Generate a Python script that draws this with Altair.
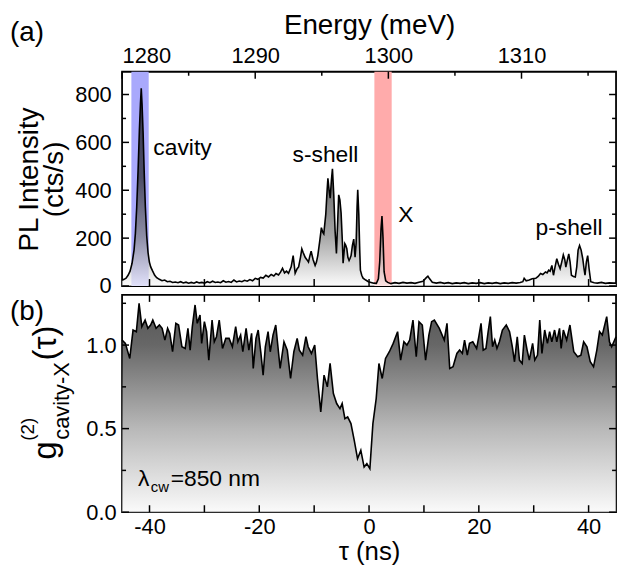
import altair as alt
import pandas as pd

# ---------------- data ----------------
energy = [1280.00, 1280.15, 1280.30, 1280.45, 1280.60, 1280.75, 1280.90, 1281.00, 1281.10, 1281.20,
          1281.30, 1281.38, 1281.44, 1281.50, 1281.58, 1281.66, 1281.75, 1281.85, 1281.95, 1282.05,
          1282.15, 1282.30, 1282.45, 1282.60, 1282.80, 1283.00, 1283.20, 1283.40, 1283.60, 1283.80,
          1284.00, 1284.20, 1284.40, 1284.60, 1284.80, 1285.00, 1285.20, 1285.40, 1285.60, 1285.80,
          1286.00, 1286.20, 1286.40, 1286.60, 1286.80, 1287.00, 1287.20, 1287.40, 1287.60, 1287.80,
          1288.00, 1288.20, 1288.40, 1288.60, 1288.80, 1289.00, 1289.20, 1289.40, 1289.60, 1289.80,
          1290.00, 1290.20, 1290.40, 1290.60, 1290.80, 1291.00, 1291.20, 1291.40, 1291.56, 1291.75,
          1291.90, 1292.05, 1292.20, 1292.35, 1292.50, 1292.70, 1292.85, 1293.00, 1293.15, 1293.26,
          1293.40, 1293.50, 1293.60, 1293.75, 1293.88, 1294.00, 1294.10, 1294.20, 1294.35, 1294.50,
          1294.60, 1294.70, 1294.85, 1294.97, 1295.07, 1295.15, 1295.30, 1295.40, 1295.46, 1295.55,
          1295.63, 1295.72, 1295.80, 1295.90, 1296.00, 1296.10, 1296.20, 1296.27, 1296.36, 1296.45,
          1296.55, 1296.60, 1296.67, 1296.73, 1296.80, 1296.88, 1296.96, 1297.05, 1297.12, 1297.20,
          1297.30, 1297.40, 1297.50, 1297.58, 1297.65, 1297.70, 1297.78, 1297.85, 1297.90, 1298.00,
          1298.10, 1298.30, 1298.50, 1298.70, 1298.90, 1299.10, 1299.25, 1299.35, 1299.45, 1299.52,
          1299.60, 1299.68, 1299.80, 1299.95, 1300.20, 1300.50, 1300.80, 1301.10, 1301.40, 1301.70,
          1302.00, 1302.30, 1302.60, 1302.85, 1302.97, 1303.10, 1303.30, 1303.60, 1303.90, 1304.20,
          1304.50, 1304.80, 1305.10, 1305.40, 1305.70, 1306.00, 1306.30, 1306.60, 1306.90, 1307.20,
          1307.50, 1307.80, 1308.10, 1308.40, 1308.70, 1309.00, 1309.30, 1309.60, 1309.90, 1310.10,
          1310.20, 1310.35, 1310.58, 1310.80, 1311.07, 1311.25, 1311.43, 1311.60, 1311.80, 1311.92,
          1312.04, 1312.15, 1312.28, 1312.40, 1312.52, 1312.65, 1312.78, 1312.90, 1313.02, 1313.14,
          1313.25, 1313.33, 1313.45, 1313.55, 1313.65, 1313.75, 1313.90, 1314.04, 1314.15, 1314.25,
          1314.36, 1314.48, 1314.60, 1314.70, 1314.77, 1314.87, 1314.97, 1315.08, 1315.20, 1315.46,
          1315.70, 1316.00, 1316.30, 1316.60, 1316.90, 1317.10]
intensity = [24, 28, 33, 45, 62, 95, 150, 220, 330, 480,
             650, 760, 826, 760, 640, 480, 330, 210, 140, 100,
             80, 62, 45, 35, 28, 22, 25, 18, 20, 15,
             17, 14, 18, 13, 16, 12, 15, 12, 17, 13,
             15, 12, 18, 14, 20, 15, 17, 14, 22, 16,
             19, 15, 25, 17, 21, 18, 24, 20, 27, 22,
             32, 28, 36, 33, 45, 38, 48, 42, 52, 46,
             58, 74, 55, 62, 53, 80, 127, 53, 72, 80,
             120, 155, 140, 120, 110, 100, 125, 145, 110, 86,
             100, 127, 190, 244, 225, 218, 300, 400, 450, 400,
             367, 440, 490, 380, 230, 136, 280, 381, 360, 305,
             180, 95, 140, 177, 170, 156, 120, 107, 115, 127,
             170, 196, 120, 180, 330, 402, 300, 150, 66, 45,
             33, 25, 18, 15, 12, 11, 30, 100, 240, 292,
             200, 60, 22, 15, 10, 14, 11, 15, 12, 14,
             11, 16, 20, 35, 41, 30, 16, 12, 15, 11,
             14, 10, 13, 11, 14, 10, 13, 11, 14, 10,
             13, 11, 14, 10, 13, 11, 14, 12, 15, 18,
             32, 22, 25, 30, 32, 40, 52, 48, 59, 55,
             66, 62, 86, 45, 80, 114, 90, 73, 100, 130,
             110, 79, 110, 134, 100, 45, 40, 38, 80, 150,
             169, 150, 114, 70, 45, 100, 127, 70, 18, 14,
             12, 15, 11, 13, 12, 12]

tau = [-45.0, -44.4, -43.6, -43.0, -42.4, -41.9, -41.4, -40.8, -40.3, -39.8,
       -39.4, -38.8, -38.2, -37.7, -37.2, -36.7, -36.3, -35.8, -35.2, -34.7,
       -34.1, -33.5, -33.0, -32.6, -32.2, -31.7, -31.3, -30.8, -30.5, -30.0,
       -29.6, -29.2, -28.6, -28.2, -27.8, -27.3, -26.7, -26.1, -25.5, -24.9,
       -24.3, -23.9, -23.4, -23.0, -22.4, -21.9, -21.4, -21.1, -20.6, -20.2,
       -19.7, -19.3, -18.9, -18.4, -18.0, -17.5, -17.0, -16.2, -15.5, -14.9,
       -14.3, -13.7, -13.1, -12.7, -12.1, -11.5, -11.1, -10.5, -9.9, -9.4,
       -8.8, -8.2, -7.6, -7.1, -6.5, -5.9, -5.3, -4.9, -4.4, -3.9,
       -3.3, -2.7, -2.1, -1.5, -0.9, -0.4, 0.15, 0.7, 1.3, 1.8,
       2.4, 3.0, 3.7, 4.4, 5.2, 5.75, 6.35, 6.9, 7.4, 8.0,
       8.6, 9.1, 9.7, 10.3, 10.9, 11.4, 11.9, 12.8, 13.7, 14.2,
       14.7, 15.3, 16.0, 16.5, 17.0, 17.4, 17.9, 18.3, 18.9, 19.6,
       20.0, 20.4, 20.8, 21.3, 21.7, 22.1, 22.5, 22.9, 23.3, 23.75,
       24.3, 25.0, 25.6, 26.1, 26.5, 27.0, 27.4, 27.9, 28.3, 28.8,
       29.2, 29.8, 30.2, 30.7, 31.1, 31.5, 32.0, 32.5, 32.9, 33.3,
       33.8, 34.2, 34.7, 35.0, 35.4, 36.0, 36.6, 37.3, 38.0, 38.6,
       39.1, 39.7, 40.3, 40.9, 41.5, 42.0, 42.5, 43.3, 43.8, 44.2,
       45.0]
g2 = [1.03, 1.01, 0.92, 1.09, 1.08, 1.25, 1.11, 1.15, 1.10, 1.12,
      1.15, 1.10, 1.12, 1.10, 1.03, 1.10, 1.07, 0.96, 1.13, 1.12,
      0.99, 0.98, 1.10, 0.97, 1.11, 1.24, 1.13, 1.18, 1.01, 1.14,
      1.08, 0.91, 1.15, 1.02, 1.05, 1.15, 0.98, 1.04, 1.04, 0.99,
      1.11, 1.02, 1.06, 0.96, 1.10, 0.97, 1.07, 0.86, 1.04, 1.09,
      0.95, 0.82, 0.99, 1.08, 0.96, 1.06, 1.12, 0.86, 1.02, 0.97,
      0.80, 0.96, 1.04, 0.97, 0.94, 1.05, 0.99, 0.95, 1.00, 0.80,
      0.60, 0.82, 0.75, 0.89, 0.71, 0.65, 0.62, 0.65, 0.56, 0.57,
      0.53, 0.43, 0.32, 0.37, 0.27, 0.29, 0.26, 0.53, 0.68, 0.89,
      0.80, 0.92, 0.96, 1.01, 1.08, 0.91, 1.02, 1.00, 1.03, 1.15,
      0.93, 1.14, 1.12, 0.91, 1.06, 1.14, 1.15, 1.10, 1.03, 1.13,
      0.86, 0.87, 0.95, 0.97, 0.95, 1.03, 0.94, 1.01, 1.02, 0.98,
      1.05, 1.13, 0.97, 0.98, 1.08, 1.17, 0.99, 1.03, 0.98, 1.02,
      1.09, 1.12, 1.08, 0.99, 0.90, 1.05, 0.91, 0.89, 1.06, 0.97,
      0.91, 1.01, 0.91, 0.94, 1.15, 0.95, 1.09, 1.01, 1.08, 1.02,
      1.09, 1.02, 1.10, 0.98, 1.09, 1.03, 1.12, 0.96, 0.93, 0.94,
      1.02, 0.99, 0.90, 0.87, 0.97, 1.08, 1.06, 1.17, 1.02, 0.99,
      1.05]

band_start = [1280.7, 1298.95]
band_end = [1282.0, 1300.25]
band_color = ["#a9a9fc", "#ffabab"]

peak_names = ["cavity", "s-shell", "X", "p-shell"]
peak_label_E = [1282.35, 1292.8, 1300.75, 1311.05]
peak_label_I = [576, 547, 298, 242]

e_major = [1280, 1290, 1300, 1310]
e_minor = [1285, 1295, 1305, 1315]
i_major = [0, 200, 400, 600, 800]
i_minor = [100, 300, 500, 700]
t_ticks = [-40, -30, -20, -10, 0, 10, 20, 30, 40]
t_labels = [-40, -20, 0, 20, 40]
g_major = [0.0, 0.5, 1.0]
g_minor = [0.25, 0.75, 1.25]

# ---------------- styling ----------------
FONT = "Liberation Sans"
W, H1, H2 = 498, 216, 219
TICK_FS = 22
ANN_FS = 23
TITLE_FS = 28
MAJ, MIN = 7, 4

sE = alt.Scale(domain=[1280, 1317.1], nice=False, zero=False)
sI = alt.Scale(domain=[0, 895], nice=False, zero=False)
sT = alt.Scale(domain=[-45, 45], nice=False, zero=False)
sG = alt.Scale(domain=[0, 1.3], nice=False, zero=False)

common = dict(domain=False, ticks=False, tickSize=0, grid=False, labelFont=FONT,
              labelFontSize=TICK_FS, labelColor="black", titleFont=FONT,
              titleFontWeight="normal", titleColor="black")
axE = alt.Axis(orient="top", values=e_major, labelExpr="'' + datum.value", labelPadding=4,
               title="Energy (meV)", titleFontSize=TITLE_FS, titlePadding=6, **common)
axI = alt.Axis(orient="left", values=i_major, labelExpr="'' + datum.value", labelPadding=11,
               title=["PL Intensity", "(cts/s)"], titleFontSize=TITLE_FS, titlePadding=6,
               titleLineHeight=26, **common)
axT = alt.Axis(orient="bottom", values=t_labels, labelExpr="'' + datum.value", labelPadding=5,
               title="τ (ns)", titleFontSize=26, titlePadding=1, **common)
axG = alt.Axis(orient="left", values=g_major, format=".1f", labelPadding=6,
               title="", **common)

spec_df = pd.DataFrame({"E": energy, "I": intensity})
g2_df = pd.DataFrame({"tau": tau, "g2": g2})
band_df = pd.DataFrame({"s": band_start, "e": band_end, "c": band_color})
lab_df = pd.DataFrame({"E": peak_label_E, "I": peak_label_I, "t": peak_names})

grad_top = alt.Gradient(
    gradient="linear", x1=0, x2=0, y1=0, y2=1,
    stops=[alt.GradientStop(color="#000000", offset=0),
           alt.GradientStop(color="#262626", offset=0.45),
           alt.GradientStop(color="#828282", offset=0.75),
           alt.GradientStop(color="#c0c0c0", offset=0.88),
           alt.GradientStop(color="#fafafa", offset=1)])
grad_bot = alt.Gradient(
    gradient="linear", x1=0, x2=0, y1=0, y2=1,
    stops=[alt.GradientStop(color="#0a0a0a", offset=0),
           alt.GradientStop(color="#262626", offset=0.2),
           alt.GradientStop(color="#9a9a9a", offset=0.6),
           alt.GradientStop(color="#f8f8f8", offset=1)])


def rules_x(vals, scale, axis, y0, y1):
    return alt.Chart(pd.DataFrame({"v": vals})).mark_rule(color="black", strokeWidth=1.5).encode(
        x=alt.X("v:Q", scale=scale, axis=axis), y=alt.value(y0), y2=alt.value(y1))


def rules_y(vals, scale, axis, x0, x1):
    return alt.Chart(pd.DataFrame({"v": vals})).mark_rule(color="black", strokeWidth=1.5).encode(
        y=alt.Y("v:Q", scale=scale, axis=axis), x=alt.value(x0), x2=alt.value(x1))


def label(txt, x, y, size, angle=0, align="left", baseline="middle"):
    kw = dict(font=FONT, fontSize=size, align=align, baseline=baseline, color="black")
    if angle:
        kw["angle"] = angle
    return alt.Chart(pd.DataFrame({"t": [txt]})).mark_text(**kw).encode(
        text="t:N", x=alt.value(x), y=alt.value(y))


# ---------------- top panel ----------------
bands = alt.Chart(band_df).mark_rect().encode(
    x=alt.X("s:Q", scale=sE, axis=axE), x2="e:Q",
    y=alt.value(0), y2=alt.value(H1),
    color=alt.Color("c:N", scale=None))

area_top = alt.Chart(spec_df).mark_area(
    color=grad_top, line={"color": "black", "strokeWidth": 1.6}, interpolate="linear").encode(
    x=alt.X("E:Q", scale=sE, axis=axE),
    y=alt.Y("I:Q", scale=sI, axis=axI))

peak_text = alt.Chart(lab_df).mark_text(
    font=FONT, fontSize=ANN_FS, align="left", baseline="middle", color="black").encode(
    x=alt.X("E:Q", scale=sE, axis=axE), y=alt.Y("I:Q", scale=sI, axis=axI), text="t:N")

top_inner = alt.layer(
    bands, area_top, peak_text,
    rules_x(e_major, sE, axE, 0, MAJ), rules_x(e_minor, sE, axE, 0, MIN),
    rules_y(i_major, sI, axI, 0, MAJ), rules_y(i_minor, sI, axI, 0, MIN),
    rules_y(i_major, sI, axI, W, W - MAJ), rules_y(i_minor, sI, axI, W, W - MIN),
    label("(a)", -113, -39, 28),
)
top = alt.layer(top_inner, rules_x(t_ticks, sT, None, H1, H1 - MAJ)).resolve_scale(
    x="independent").properties(width=W, height=H1)

# ---------------- bottom panel ----------------
area_bot = alt.Chart(g2_df).mark_area(
    color=grad_bot, line={"color": "black", "strokeWidth": 1.6}, interpolate="linear").encode(
    x=alt.X("tau:Q", scale=sT, axis=axT),
    y=alt.Y("g2:Q", scale=sG, axis=axG))

bottom = alt.layer(
    area_bot,
    rules_x(t_ticks, sT, axT, 0, MAJ), rules_x(t_ticks, sT, axT, H2, H2 - MAJ),
    rules_y(g_major, sG, axG, 0, MAJ), rules_y(g_minor, sG, axG, 0, MIN),
    rules_y(g_major, sG, axG, W, W - MAJ), rules_y(g_minor, sG, axG, W, W - MIN),
    label("λ", 16, 186, ANN_FS),
    label("cw", 29, 194, 15),
    label("=850 nm", 49, 186, ANN_FS),
    label("g", -77, 166, 33, angle=270),
    label("(2)", -95, 147, 19, angle=270),
    label("cavity-X", -61, 146, 22, angle=270),
    label("(τ)", -77, 66, 33, angle=270),
    label("(b)", -113, 17, 28),
).properties(width=W, height=H2)

chart = alt.vconcat(top, bottom, spacing=9, bounds="flush").properties(
    padding={"left": 1, "top": 0, "right": 0, "bottom": 0},
    background="white",
).configure_view(stroke="black", strokeWidth=1.8)

chart.save("out.html", embed_options={"renderer": "svg", "actions": False})
